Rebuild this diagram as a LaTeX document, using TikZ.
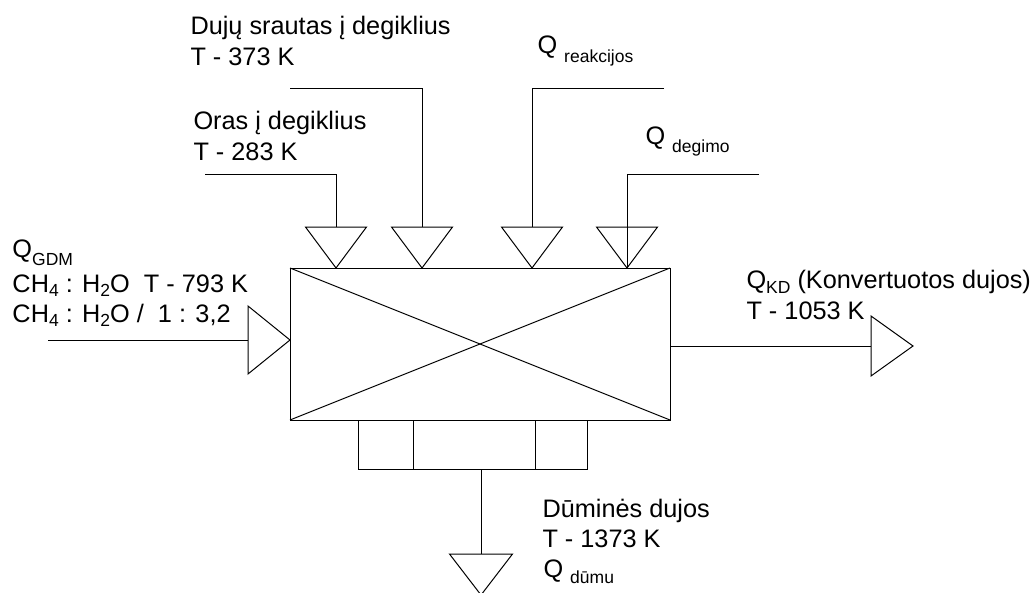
\documentclass[tikz,border=0pt]{standalone}
\usepackage{fontspec}
\setmainfont{Liberation Sans}
\usetikzlibrary{shapes.geometric}
\tikzset{
  port/.style={draw,isosceles triangle,isosceles triangle stretches,inner sep=0pt,outer sep=0pt,minimum width=61pt,minimum height=41pt},
  lbl/.style={anchor=base west,inner sep=0pt,font=\fontsize{25.3}{30}\selectfont},
}
\newcommand{\lowtext}[2]{\raisebox{-#1pt}{\fontsize{17.5}{18}\selectfont #2}}

\begin{document}
\begin{tikzpicture}[x=1pt,y=-1pt,line width=1pt]
    \useasboundingbox (0,0) rectangle (1033,592);
    \node (reactor) at (480,344) [draw,minimum width=380pt,minimum height=152pt,inner sep=0pt,outer sep=0pt] {};
    \path [draw] (reactor.north west) -- (reactor.south east);
    \path [draw] (reactor.north east) -- (reactor.south west);
    \node (flue) at (472.5,444.5) [draw,minimum width=229pt,minimum height=49pt,inner sep=0pt,outer sep=0pt] {};
    \path [draw] (413,420) -- (413,469);
    \path [draw] (535,420) -- (535,469);

    \node (oras) at (336,268) [port,rotate=-90,anchor=apex] {};
    \node (dujos) at (422,268) [port,rotate=-90,anchor=apex] {};
    \node (reakc) at (532,268) [port,rotate=-90,anchor=apex] {};
    \node (degimo) at (627,268) [port,rotate=-90,anchor=apex] {};
    \node (gdm) at (290,340) [port,minimum width=68pt,minimum height=42pt,anchor=apex] {};
    \node (kd) at (913,346) [port,minimum width=60pt,minimum height=42pt,anchor=apex] {};
    \node (dumai) at (481,554) [port,rotate=-90,minimum width=63pt,anchor=lower side] {};

    \coordinate (orasIn) at (205,174);
    \coordinate (dujosIn) at (290,88);
    \coordinate (reakcIn) at (664,88);
    \coordinate (degimoIn) at (759,174);
    \coordinate (gdmIn) at (48,340);
    \path [draw] (orasIn) -| (oras.lower side);
    \path [draw] (dujosIn) -| (dujos.lower side);
    \path [draw] (reakcIn) -| (reakc.lower side);
    \path [draw] (degimoIn) -| (degimo.apex);
    \path [draw] (gdmIn) -- (gdm.lower side);
    \path [draw] (kd.lower side -| reactor.east) -- (kd.lower side);
    \path [draw] (flue.south -| dumai.lower side) -- (dumai.lower side);

    \node (dujosName) at (190,34) [lbl] {Dujų srautas į degiklius};
    \node (dujosTemp) at (190,65) [lbl] {T - 373 K};
    \node (orasName) at (193,129) [lbl] {Oras į degiklius};
    \node (orasTemp) at (193,160) [lbl] {T - 283 K};
    \node (reakcLbl) at (537,53) [lbl] {Q \lowtext{9}{reakcijos}};
    \node (degimoLbl) at (645,144) [lbl] {Q \lowtext{8}{degimo}};
    \node (gdmName) at (12,257) [lbl] {Q\lowtext{8}{GDM}};
    \node (gdmTemp) at (12,292) [lbl] {CH\lowtext{4}{4} : H\lowtext{4}{2}O\ \ T - 793 K};
    \node (gdmRatio) at (12,322) [lbl] {CH\lowtext{4}{4} : H\lowtext{4}{2}O /\ \ 1 : 3,2};
    \node (kdName) at (746,288) [lbl] {Q\lowtext{5}{KD} (Konvertuotos dujos)};
    \node (kdTemp) at (746,319) [lbl] {T - 1053 K};
    \node (dumaiName) at (542,517) [lbl] {Dūminės dujos};
    \node (dumaiTemp) at (542,547) [lbl] {T - 1373 K};
    \node (dumaiQ) at (543,577) [lbl] {Q \lowtext{6}{dūmu}};
\end{tikzpicture}
\end{document}
